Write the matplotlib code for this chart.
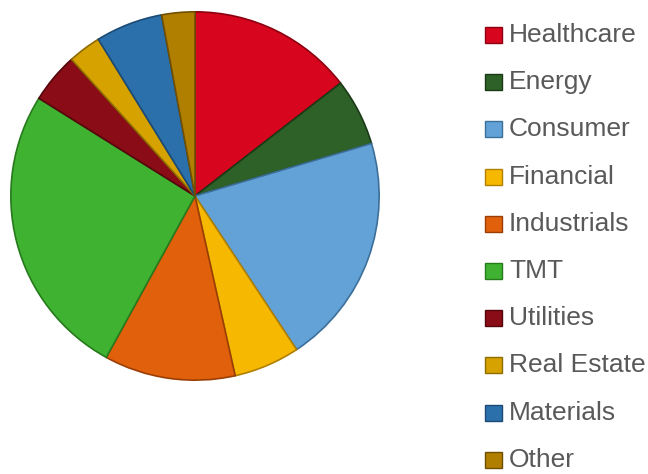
import matplotlib.pyplot as plt
from matplotlib.patches import Rectangle

sectors = ["Healthcare", "Energy", "Consumer", "Financial", "Industrials",
           "TMT", "Utilities", "Real Estate", "Materials", "Other"]
shares = [14.5, 5.9, 20.3, 5.8, 11.5, 25.9, 4.4, 2.9, 5.9, 2.9]
colors = ["#d8051e", "#2e6128", "#63a2d6", "#f6b800", "#e0600c",
          "#40b232", "#8a0c16", "#d6a200", "#2b70aa", "#b07f00"]
edges = ["#8c0010", "#1a3a16", "#3c6f99", "#b08000", "#9a3e05",
         "#267a1c", "#55050b", "#8f6c00", "#1a4a75", "#704f00"]

fig = plt.figure(figsize=(6.48, 4.74), dpi=100)

# pie centre ~ (195, 196) px, radius ~186 px
ax = fig.add_axes([(195 - 186) / 648, (474 - 196 - 186) / 474, 372 / 648, 372 / 474])
wedges, _ = ax.pie(shares, colors=colors, startangle=90, counterclock=False,
                   radius=1.0, wedgeprops=dict(linewidth=1.2))
for w, ec in zip(wedges, edges):
    w.set_edgecolor(ec)
ax.set_xlim(-1.01, 1.01)
ax.set_ylim(-1.01, 1.01)
ax.set_aspect("equal")
ax.axis("off")

# legend drawn by hand
y0 = 35
step = 47.2
for i, (name, c, ec) in enumerate(zip(sectors, colors, edges)):
    yc = y0 + i * step
    fig.patches.append(Rectangle((485 / 648, (474 - yc - 8) / 474), 17 / 648, 16 / 474,
                                 transform=fig.transFigure, facecolor=c,
                                 edgecolor=ec, linewidth=1))
    fig.text(509 / 648, (474 - yc) / 474, name, fontsize=19, color="#595959",
             va="center", ha="left", family="Liberation Sans")

fig.savefig("out.png", dpi=100)
